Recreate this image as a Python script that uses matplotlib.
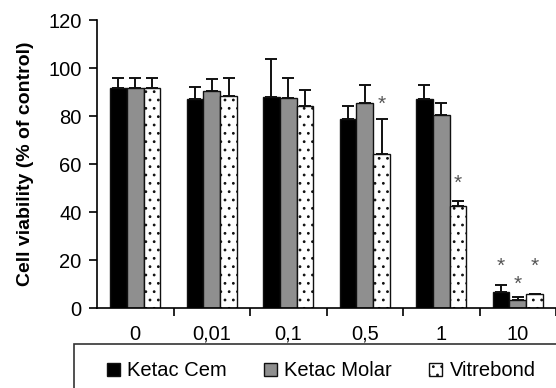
import matplotlib
matplotlib.use("Agg")
import matplotlib.pyplot as plt
from matplotlib.patches import Rectangle
import numpy as np

plt.rcParams['font.family'] = ['Liberation Sans', 'DejaVu Sans']
plt.rcParams['hatch.linewidth'] = 0.8

concentrations = ["0", "0,01", "0,1", "0,5", "1", "10"]
series = ["Ketac Cem", "Ketac Molar", "Vitrebond"]
means = {
    "Ketac Cem":   [91.7, 87.0, 88.0, 78.6, 87.0, 6.6],
    "Ketac Molar": [91.5, 90.4, 87.5, 85.5, 80.4, 3.3],
    "Vitrebond":   [91.5, 88.3, 84.0, 64.0, 42.5, 5.8],
}
errors = {
    "Ketac Cem":   [4.1, 5.0, 15.7, 5.4, 6.0, 3.0],
    "Ketac Molar": [4.3, 5.0, 8.5, 7.5, 5.1, 1.4],
    "Vitrebond":   [4.3, 7.7, 7.0, 14.6, 2.2, 0.0],
}
# (group index, series index, y position) of significance stars
stars = [(3, 2, 85.0), (4, 2, 52.0), (5, 0, 17.5), (5, 1, 10.0), (5, 2, 17.5)]

colors = ["black", "#8f8f8f", "white"]
hatches = [None, None, ".."]

fig = plt.figure(figsize=(5.56, 3.88), dpi=100)
ax = fig.add_axes([97/556, 80/388, 459/556, 288/388])

x = np.arange(len(concentrations))
w = 0.22
for i, s in enumerate(series):
    pos = x + (i - 1) * w
    ax.bar(pos, means[s], w, color=colors[i], edgecolor="#111111", linewidth=1.0,
           hatch=hatches[i], label=s, zorder=2)
    ax.errorbar(pos, means[s], yerr=[np.zeros(len(x)), errors[s]], fmt="none",
                ecolor="#111111", elinewidth=1.4, capsize=4.6, capthick=1.4, zorder=1)

for g, si, yv in stars:
    ax.text(g + (si - 1) * w, yv, "*", ha="center", va="center",
            fontsize=15, color="#555555")

ax.set_xlim(-0.5, 5.5)
ax.set_ylim(0, 120)
ax.set_yticks(range(0, 121, 20))
ax.set_xticks(x)
ax.set_xticklabels(concentrations)
ax.set_xticks(np.arange(0.5, 5.6, 1), minor=True)
ax.tick_params(axis="x", which="major", length=0, pad=12, labelsize=14.5)
ax.tick_params(axis="x", which="minor", length=6, width=1.2, direction="out")
ax.tick_params(axis="y", length=6, width=1.2, pad=5, labelsize=14.5)
for side in ["top", "right"]:
    ax.spines[side].set_visible(False)
for side in ["left", "bottom"]:
    ax.spines[side].set_linewidth(1.2)
ax.set_ylabel("Cell viability (% of control)", fontsize=14, fontweight="bold", labelpad=10)

fig.patches.append(Rectangle((74/556, -0.1), 1.0, 0.1 + 44/388, transform=fig.transFigure,
                             facecolor="none", edgecolor="#333333", linewidth=1.2))
fig.legend(loc="center left", bbox_to_anchor=(97/556, 17/388), ncol=3, frameon=False,
           fontsize=14.5, handlelength=0.65, handleheight=0.65, handletextpad=0.35,
           columnspacing=1.85, borderpad=0)

fig.savefig("out.png", dpi=100)
